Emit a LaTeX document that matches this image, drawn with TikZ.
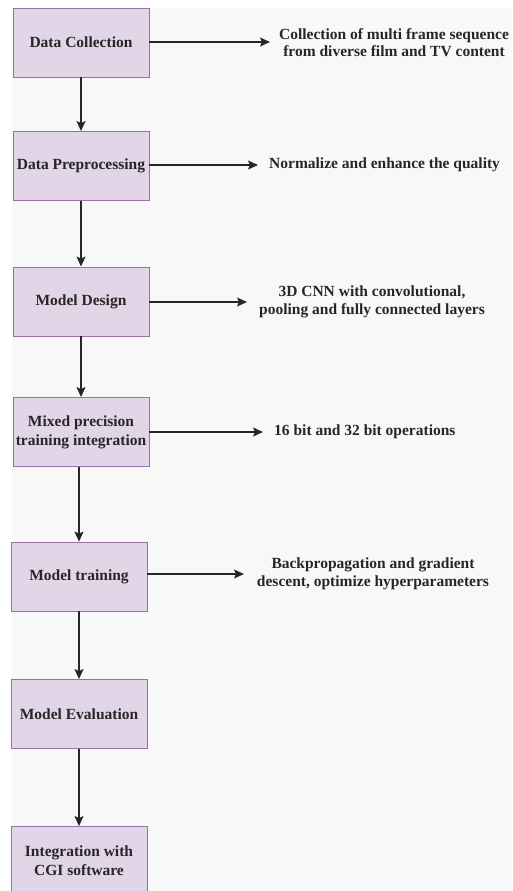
\documentclass[tikz,border=0pt]{standalone}
\usepackage{fontspec}
\setmainfont{Liberation Serif}
\usetikzlibrary{arrows.meta}

\definecolor{stepfill}{HTML}{E1D5E7}
\definecolor{stepline}{HTML}{9673A6}
\definecolor{pagegray}{HTML}{F8F8F8}
\definecolor{inkgray}{HTML}{262626}

\tikzset{
  stepbox/.style={draw=stepline, fill=stepfill, line width=0.9pt, minimum width=136pt, minimum height=69pt,
    inner sep=1pt, align=center, font=\fontsize{15.5}{19}\selectfont\bfseries, text=inkgray},
  note/.style={align=center, inner sep=0pt, font=\fontsize{15.5}{17.5}\selectfont\bfseries, text=inkgray},
  flow/.style={draw=inkgray, line width=1.1pt, -{Stealth[length=10pt,width=9pt,inset=2pt]}}
}

\begin{document}
\begin{tikzpicture}[x=1pt,y=-1pt]
        \useasboundingbox (0,0) rectangle (512,891);
        \fill [pagegray] (12,8) rectangle (512,891);
        % process steps
        \node [stepbox] (collect) at (81,42.5) {Data Collection};
        \node [stepbox] (prep) at (81,166) {Data Preprocessing};
        \node [stepbox] (design) at (81,301.5) {Model Design};
        \node [stepbox] (mixed) at (81,432) {Mixed precision\\training integration};
        \node [stepbox] (train) at (79,576.5) {Model training};
        \node [stepbox] (eval) at (79,714) {Model Evaluation};
        \node [stepbox] (cgi) at (79,861) {Integration with\\CGI software};
        % notes on the right
        \node [note] (collectnote) at (394,42.5) {Collection of multi frame sequence\\from diverse film and TV content};
        \node [note, anchor=west] (prepnote) at (269,165) {Normalize and enhance the quality};
        \node [note] (designnote) at (372,302) {3D CNN with convolutional,\\pooling and fully connected layers};
        \node [note, anchor=west] (mixednote) at (274,432) {16 bit and 32 bit operations};
        \node [note] (trainnote) at (373,574) {Backpropagation and gradient\\descent, optimize hyperparameters};
        \coordinate (collectend) at (270,42);
        \coordinate (prepend) at (258,165);
        \coordinate (designend) at (247,302);
        \coordinate (mixedend) at (263,432);
        \coordinate (trainend) at (244,574);
        % arrows down
        \draw [flow] (collect) -- (prep);
        \draw [flow] (prep) -- (design);
        \draw [flow] (design) -- (mixed);
        \draw [flow] (mixed.south -| train) -- (train);
        \draw [flow] (train) -- (eval);
        \draw [flow] (eval) -- (cgi);
        % arrows to the notes
        \draw [flow] (collect.east |- collectend) -- (collectend);
        \draw [flow] (prep.east |- prepend) -- (prepend);
        \draw [flow] (design.east |- designend) -- (designend);
        \draw [flow] (mixed.east |- mixedend) -- (mixedend);
        \draw [flow] (train.east |- trainend) -- (trainend);
    \end{tikzpicture}
\end{document}
